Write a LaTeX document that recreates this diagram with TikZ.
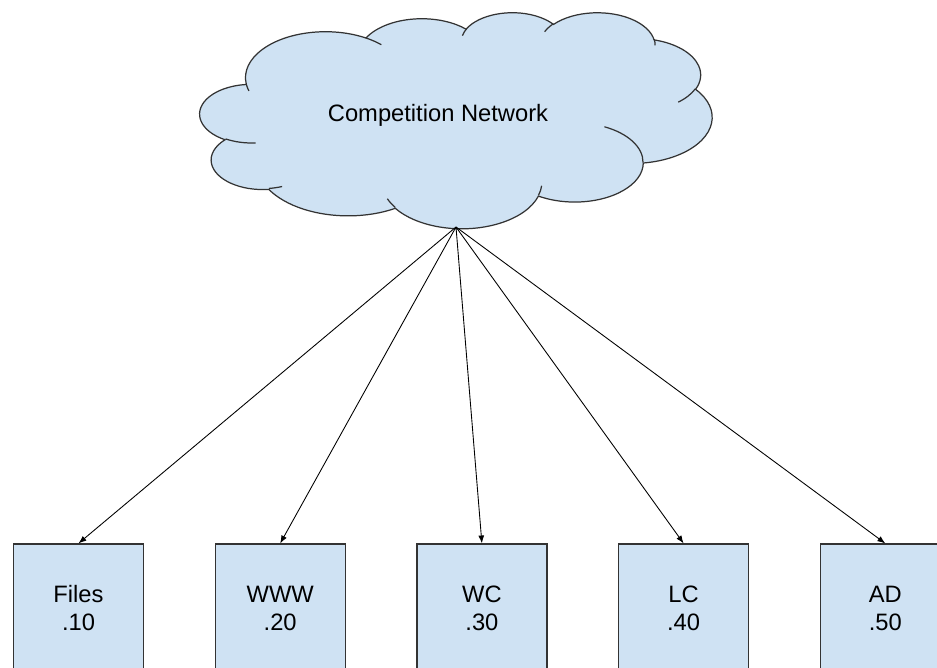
\documentclass[tikz,border=0pt]{standalone}
\usepackage{fontspec}
\setmainfont{Liberation Sans}
\usepackage{xcolor}
\usepackage{tikz}
\usetikzlibrary{arrows.meta}

\definecolor{paleblue}{HTML}{CFE2F3}
\definecolor{edgegray}{HTML}{333333}

\tikzset{
  puff/.style n args={4}{x radius=#1, y radius=#2,
    start angle={atan2(#1*sin(#3),#2*cos(#3))},
    delta angle={mod(atan2(#1*sin(#3+#4),#2*cos(#3+#4))-atan2(#1*sin(#3),#2*cos(#3))+720,360)}},
  cloudline/.style={draw=edgegray, line width=0.7pt},
  compbox/.style={draw=edgegray, fill=paleblue, line width=0.7pt,
    minimum width=2.6cm, minimum height=2.56cm, align=center},
  link/.style={-{Latex[length=4.5pt,width=3.4pt]}, line width=0.5pt}
}

\begin{document}
\begin{tikzpicture}[x=0.02cm, y=-0.02cm, font=\fontsize{13.5}{15.9}\selectfont]
  \useasboundingbox (0,0) rectangle (937,667);
  \clip (0,0) rectangle (937,667);
  % the cloud, in a 4320 x 4320 frame
  \begin{scope}[shift={(200,12)}, xscale=0.118519, yscale=0.05]
    \filldraw[cloudline, fill=paleblue] (390,1437)
      \foreach \rx/\ry/\st/\sw in {675.3/919.0/-190.4875/123.7805, 533.3/726.7/-144.1024/89.9452,
        436.5/594.5/-145.8079/99.7230, 485.7/659.5/-130.9861/117.2417,
        533.3/727.3/-78.7089/109.0269, 677.5/922.0/-46.2673/130.2690,
        578.5/786.7/0.6250/114.0333, 675.2/921.5/22.4516/115.1726,
        772.0/1054.3/66.2426/75.7110, 436.0/591.8/-274.9421/146.7356,
        434.5/594.5/-246.8285/152.5189}{
        arc[puff={\rx}{\ry}{\st}{\sw}]} -- cycle;
    \foreach \px/\py/\rx/\ry/\st/\sw in {469.3/2617.7/434.5/594.5/86.7420/26.4295,
      692.8/3489.9/436.0/591.8/73.6105/11.4475, 1647.8/3909.0/675.2/921.5/137.6242/14.0811,
      2882.7/3475.1/675.2/921.5/6.4533/15.9984, 3412.9/2295.4/578.5/786.7/-70.2924/70.9174,
      4179.8/1535.4/533.3/727.3/30.3180/27.7515, 3832.4/542.6/485.7/659.5/-13.7443/14.8589,
      2907.8/395.2/485.7/659.5/-149.1815/18.1954, 2214.1/472.0/436.5/594.5/-163.4943/17.6864,
      1400.0/519.2/675.3/919.0/-66.7070/12.3194, 412.7/1578.9/675.3/919.0/157.6544/11.8582}{
      \draw[cloudline] (\px,\py) arc[puff={\rx}{\ry}{\st}{\sw}];}
  \end{scope}
  \node (net) at (438,115) {Competition Network};
  \coordinate (hub) at (456,227);

  \foreach \i/\x/\lab/\val in {1/78.5/Files/.10, 2/280.2/WWW/.20, 3/481.9/WC/.30,
      4/683.6/LC/.40, 5/885.3/AD/.50}{
    \node[compbox] (box\i) at (\x,608) {\lab\\\val};
    \draw[link] (hub) -- (box\i.north);}
\end{tikzpicture}
\end{document}
